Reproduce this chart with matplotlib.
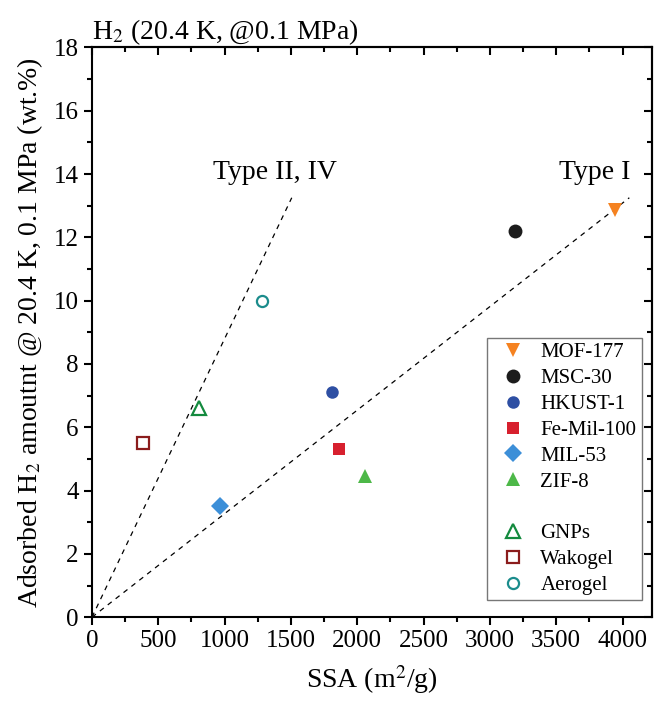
import matplotlib
matplotlib.use('Agg')
import matplotlib.pyplot as plt
from matplotlib.lines import Line2D
from matplotlib.ticker import MultipleLocator

plt.rcParams['font.family'] = ['Liberation Serif', 'DejaVu Serif']
plt.rcParams['mathtext.fontset'] = 'stix'

# data: SSA (m2/g) vs H2 uptake (wt.%)
names = ['MOF-177', 'MSC-30', 'HKUST-1', 'Fe-Mil-100', 'MIL-53', 'ZIF-8',
         'GNPs', 'Wakogel', 'Aerogel']
ssa = [3946, 3190, 1810, 1862, 964, 2056, 806, 382, 1278]
uptake = [12.85, 12.2, 7.1, 5.3, 3.5, 4.45, 6.6, 5.5, 10.0]
markers = ['v', 'o', 'o', 's', 'D', '^', '^', 's', 'o']
colors = ['#F58220', '#1C1C1C', '#2E4FA3', '#D7202E', '#3C8FD8', '#4DB848',
          '#138A3E', '#8B1C1C', '#1B8C8C']
filled = [True, True, True, True, True, True, False, False, False]
sizes = [10, 10, 9, 9, 9, 10, 10, 8, 8]

# guide lines (end points)
type1_end = (4051, 13.25)
type2_end = (1506, 13.25)

fig = plt.figure(figsize=(6.57, 7.07), dpi=100)
ax = fig.add_axes([0.140, 0.127, 0.852, 0.806])

ax.plot([0, type1_end[0]], [0, type1_end[1]], color='black', lw=0.9, ls=(0, (4, 4)))
ax.plot([0, type2_end[0]], [0, type2_end[1]], color='black', lw=0.9, ls=(0, (4, 4)))
ax.text(3790, 14.05, 'Type I', fontsize=20, ha='center', va='center')
ax.text(1380, 14.05, 'Type II, IV', fontsize=20, ha='center', va='center')

handles = []
for i in range(len(names)):
    fc = colors[i] if filled[i] else 'white'
    ax.plot(ssa[i], uptake[i], ls='none', marker=markers[i], ms=sizes[i],
            mfc=fc, mec=colors[i], mew=1.6 if not filled[i] else 0, zorder=3)
    h = Line2D([], [], ls='none', marker=markers[i], ms=sizes[i],
               mfc=fc, mec=colors[i], mew=1.6 if not filled[i] else 0, label=names[i])
    handles.append(h)
    if i == 5:
        handles.append(Line2D([], [], ls='none', marker='', label=' '))

leg = ax.legend(handles=handles, loc='lower right', bbox_to_anchor=(0.982, 0.030),
                borderaxespad=0, fontsize=15, frameon=True, fancybox=False,
                edgecolor='#555555', handletextpad=0.34, labelspacing=0.3,
                borderpad=0.25, handlelength=2.0)
leg.get_frame().set_linewidth(1.0)

ax.set_xlim(0, 4220)
ax.set_ylim(0, 18)
ax.xaxis.set_major_locator(MultipleLocator(500))
ax.xaxis.set_minor_locator(MultipleLocator(250))
ax.yaxis.set_major_locator(MultipleLocator(2))
ax.yaxis.set_minor_locator(MultipleLocator(1))
ax.tick_params(which='both', direction='out', labelsize=18, width=1.5, color='black')
ax.tick_params(which='major', length=6)
ax.tick_params(which='minor', length=3.5)
for s in ax.spines.values():
    s.set_linewidth(1.5)

top = ax.secondary_xaxis('top')
top.xaxis.set_major_locator(MultipleLocator(500))
top.xaxis.set_minor_locator(MultipleLocator(250))
top.tick_params(which='both', direction='in', labeltop=False, width=1.5)
top.tick_params(which='major', length=6)
top.tick_params(which='minor', length=3.5)
right = ax.secondary_yaxis('right')
right.yaxis.set_major_locator(MultipleLocator(2))
right.yaxis.set_minor_locator(MultipleLocator(1))
right.tick_params(which='both', direction='in', labelright=False, width=1.5)
right.tick_params(which='major', length=6)
right.tick_params(which='minor', length=3.5)
for sa in (top, right):
    for s in sa.spines.values():
        s.set_linewidth(1.5)

ax.set_xlabel('SSA (m$^2$/g)', fontsize=20, labelpad=8)
ax.set_ylabel('Adsorbed H$_2$ amoutnt @ 20.4 K, 0.1 MPa (wt.%)', fontsize=20, labelpad=6)
ax.set_title('H$_2$ (20.4 K, @0.1 MPa)', fontsize=20, loc='left', pad=6)

fig.savefig('out.png', dpi=100)
